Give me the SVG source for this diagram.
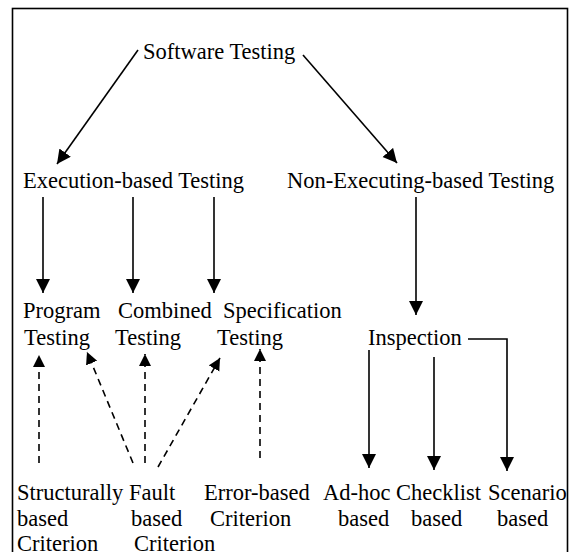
<svg xmlns="http://www.w3.org/2000/svg" width="569" height="552" viewBox="0 0 569 552">
<style>
text{font-family:"Liberation Serif","Times New Roman",serif;font-size:22.5px;fill:#000}
.ln{stroke:#000;stroke-width:1.6;fill:none}
.sol{marker-end:url(#ah)}
.dash{stroke-dasharray:7 5;marker-end:url(#ahd)}
</style>
<defs>
<marker id="ah" markerUnits="userSpaceOnUse" markerWidth="15" markerHeight="15" refX="14" refY="7" orient="auto">
<path d="M0,0 L14,7 L0,14 z" fill="#000"/>
</marker>
<marker id="ahd" markerUnits="userSpaceOnUse" markerWidth="13" markerHeight="13" refX="12" refY="6" orient="auto">
<path d="M0,0 L12,6 L0,12 z" fill="#000"/>
</marker>
</defs>
<rect x="12.5" y="8.5" width="555" height="560" fill="#fff" stroke="#000" stroke-width="1.6"/>
<g id="connectors">
<line class="ln sol" x1="138" y1="50" x2="57" y2="164"/>
<line class="ln sol" x1="303" y1="55" x2="397" y2="163"/>
<line class="ln sol" x1="43" y1="197" x2="43" y2="293"/>
<line class="ln sol" x1="133" y1="197" x2="133" y2="293"/>
<line class="ln sol" x1="214" y1="197" x2="214" y2="293"/>
<line class="ln sol" x1="416" y1="197" x2="416" y2="315"/>
<line class="ln sol" x1="369" y1="350" x2="369" y2="468"/>
<line class="ln sol" x1="434" y1="357" x2="434" y2="470"/>
<polyline class="ln sol" points="468,339 507,339 507,471"/>
<line class="ln dash" x1="39" y1="463" x2="39" y2="355"/>
<line class="ln dash" x1="133" y1="463" x2="87" y2="352"/>
<line class="ln dash" x1="145" y1="463" x2="145" y2="354"/>
<line class="ln dash" x1="158" y1="467" x2="220" y2="358"/>
<line class="ln dash" x1="260" y1="458" x2="260" y2="349"/>
</g>
<g id="software"><text x="143" y="59">Software Testing</text></g>
<g id="execution"><text x="23" y="188">Execution-based Testing</text></g>
<g id="nonexec"><text x="287" y="188">Non-Executing-based Testing</text></g>
<g id="program"><text x="23" y="318">Program</text><text x="24" y="345">Testing</text></g>
<g id="combined"><text x="118" y="318">Combined</text><text x="115" y="345">Testing</text></g>
<g id="specification"><text x="223" y="318">Specification</text><text x="217" y="345">Testing</text></g>
<g id="inspection"><text x="368" y="345">Inspection</text></g>
<g id="structural"><text x="17" y="500">Structurally</text><text x="17" y="526">based</text><text x="17" y="551">Criterion</text></g>
<g id="fault"><text x="129" y="500">Fault</text><text x="131" y="526">based</text><text x="134" y="551">Criterion</text></g>
<g id="error"><text x="204" y="500">Error-based</text><text x="210" y="526">Criterion</text></g>
<g id="adhoc"><text x="323" y="500">Ad-hoc</text><text x="338" y="526">based</text></g>
<g id="checklist"><text x="396" y="500">Checklist</text><text x="411" y="526">based</text></g>
<g id="scenario"><text x="488" y="500">Scenario</text><text x="497" y="526">based</text></g>
</svg>
